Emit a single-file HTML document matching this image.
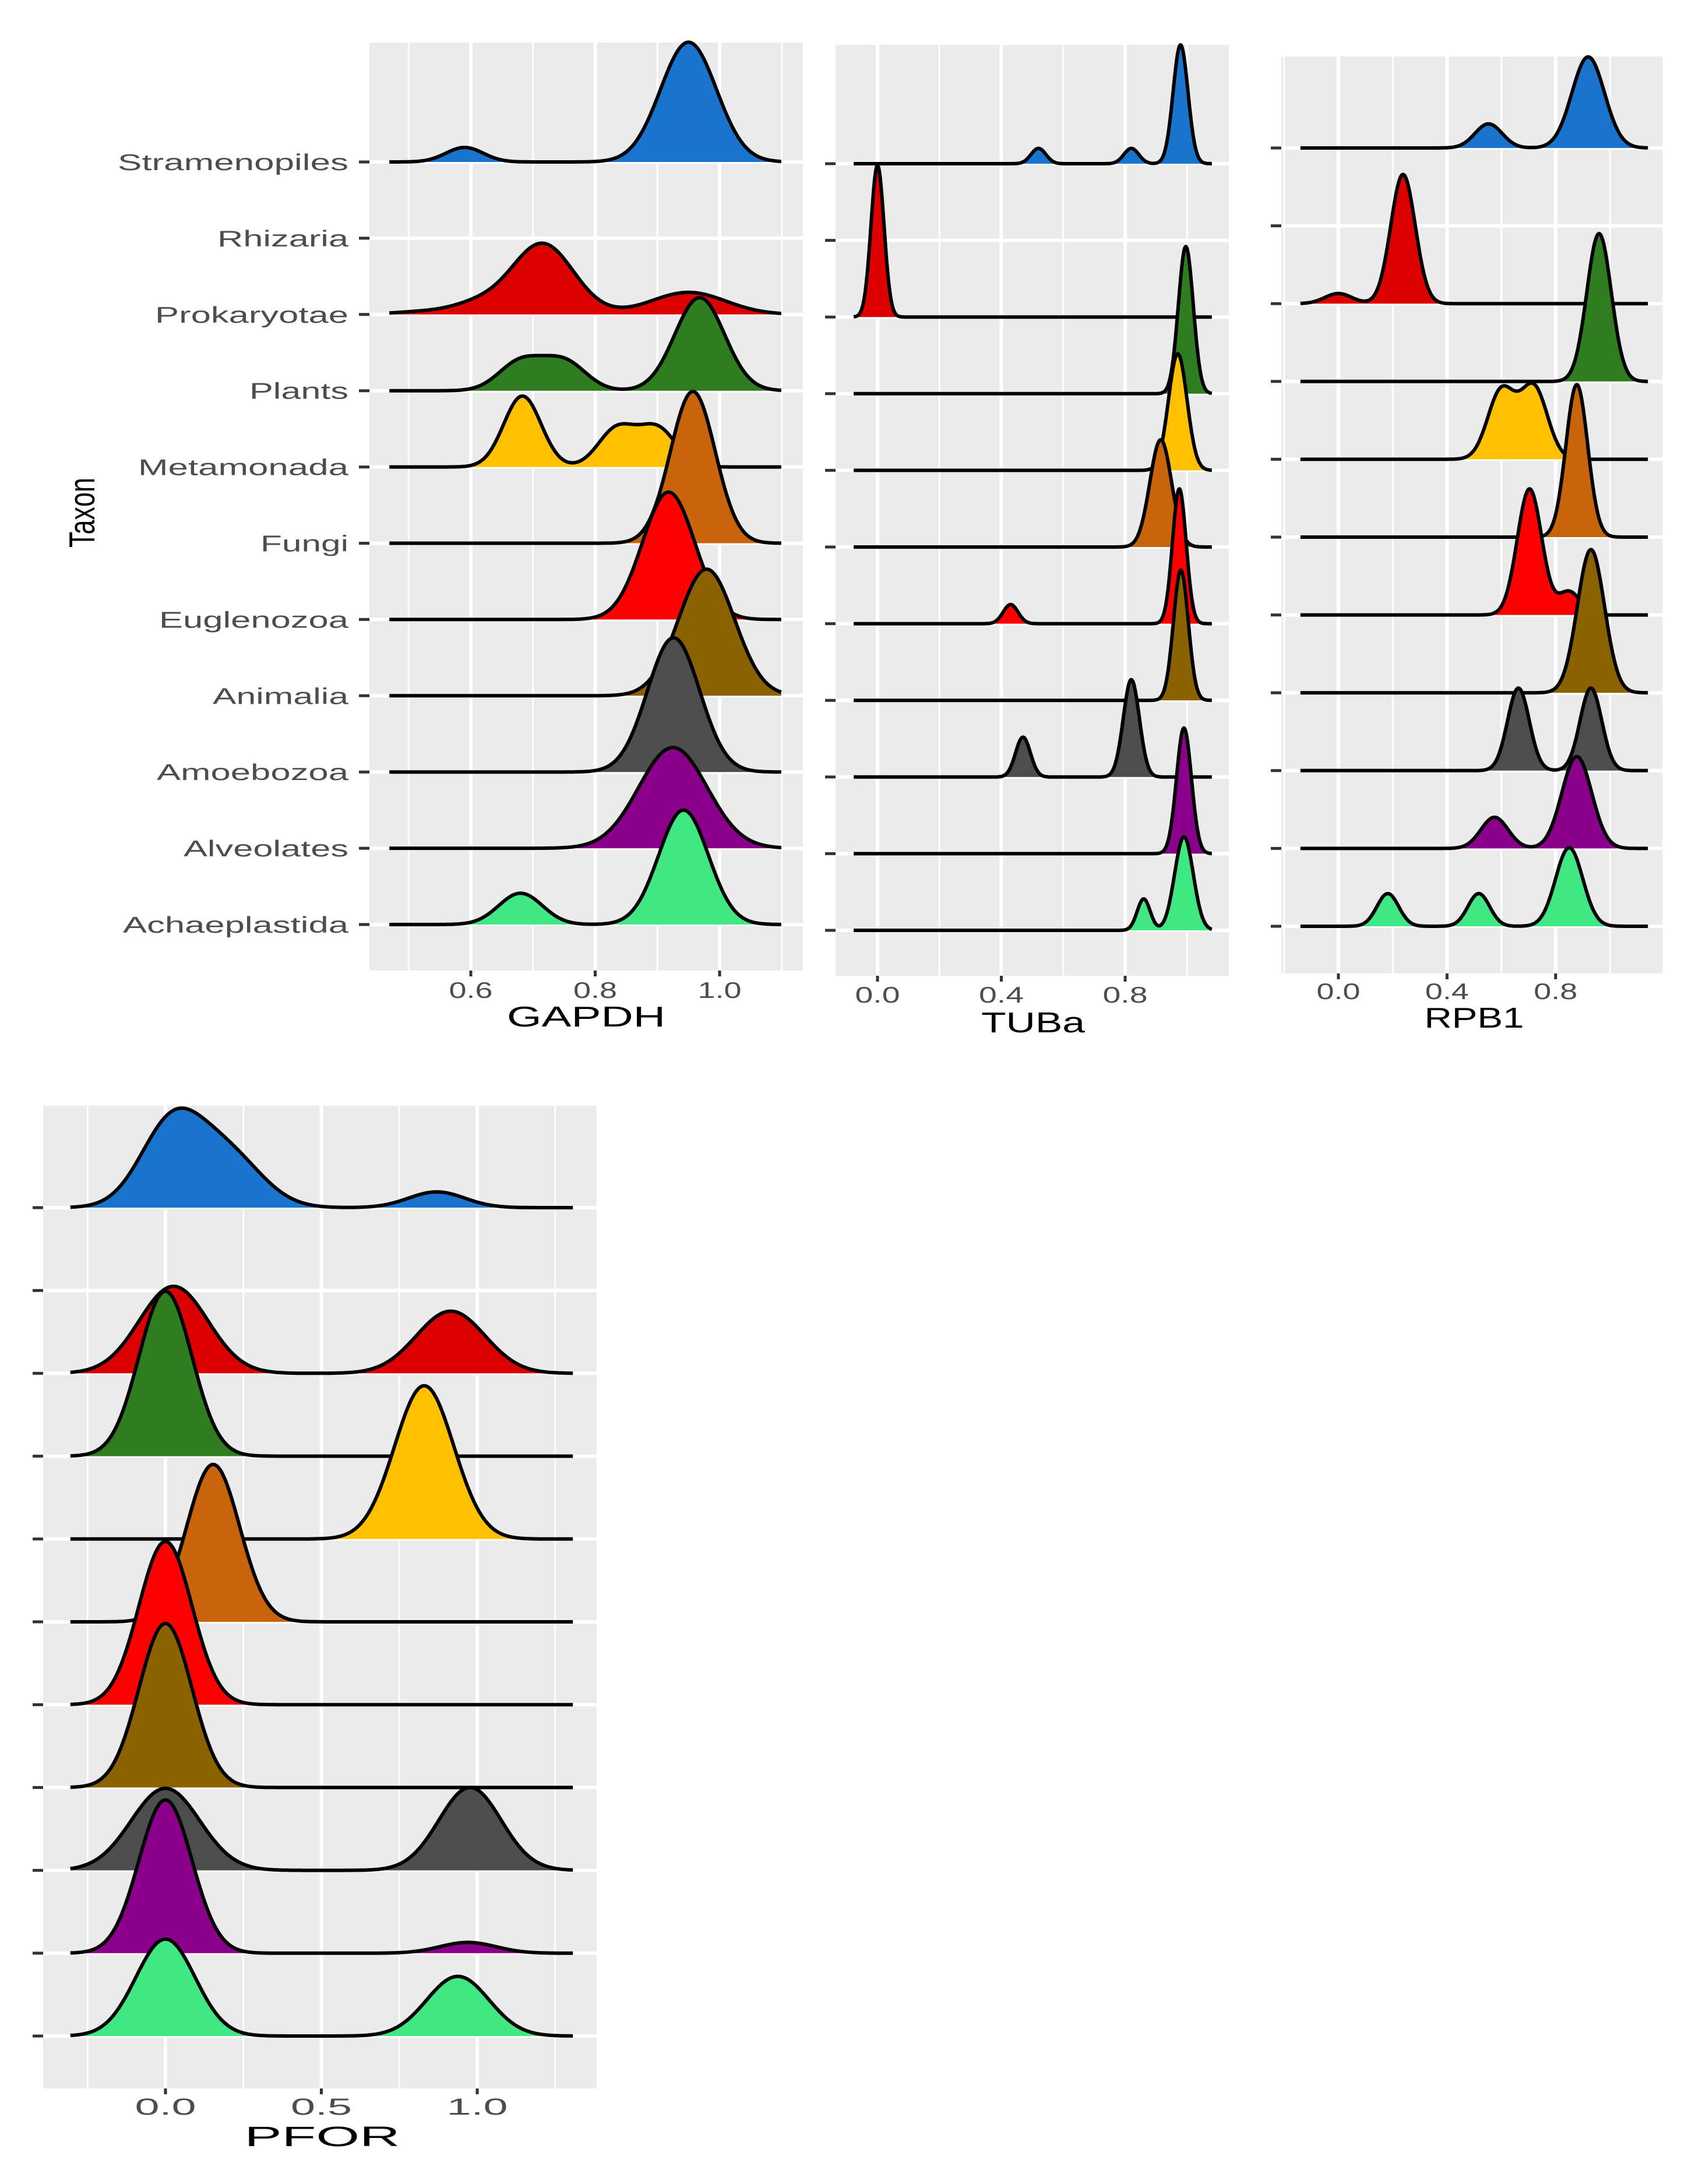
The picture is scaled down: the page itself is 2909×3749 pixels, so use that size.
<!DOCTYPE html>
<html><head><meta charset="utf-8"><style>
html,body{margin:0;padding:0;background:#fff}
svg{display:block}
text{font-family:"Liberation Sans",sans-serif}
</style></head><body>
<svg id="chart" xmlns="http://www.w3.org/2000/svg" width="2909" height="3749" viewBox="0 0 2909 3749">
<text x="0" y="0" font-size="62" fill="#000" textLength="120" lengthAdjust="spacingAndGlyphs" text-anchor="middle" transform="translate(162,880) rotate(-90)">Taxon</text>
</svg>
<script>
const taxa = ["Stramenopiles","Rhizaria","Prokaryotae","Plants","Metamonada","Fungi","Euglenozoa","Animalia","Amoebozoa","Alveolates","Achaeplastida"];
const colors = ["#1874CD","#CC0000","#DD0000","#2E7D1F","#FFC000","#C8650A","#FF0000","#8B6200","#4D4D4D","#8B008B","#40E884"];
// each taxon: list of [mean, sd, peak height in row-spacing units]
const gapdhSeries = [
 [[0.95,0.045,1.57],[0.59,0.03,0.19]],
 [],
 [[0.715,0.05,0.93],[0.61,0.04,0.12],[0.95,0.06,0.29],[0.53,0.05,0.04]],
 [[0.968,0.04,1.22],[0.68,0.035,0.38],[0.75,0.035,0.38]],
 [[0.683,0.03,0.93],[0.835,0.03,0.5],[0.9,0.03,0.5]],
 [[0.957,0.036,1.99]],
 [[0.918,0.042,1.67]],
 [[0.979,0.045,1.66]],
 [[0.926,0.042,1.76]],
 [[0.925,0.055,1.32]],
 [[0.942,0.04,1.5],[0.68,0.035,0.41]]
];
const tubaSeries = [
 [[0.979,0.024,1.55],[0.52,0.024,0.2],[0.82,0.024,0.2]],
 [],
 [[0.0,0.021,1.98]],
 [[0.996,0.024,1.92]],
 [[0.97,0.03,1.52]],
 [[0.915,0.035,1.4]],
 [[0.975,0.022,1.76],[0.43,0.024,0.25]],
 [[0.98,0.024,1.7]],
 [[0.47,0.024,0.52],[0.82,0.026,1.27]],
 [[0.99,0.024,1.64]],
 [[0.99,0.03,1.22],[0.86,0.021,0.41]]
];
const rpb1Series = [
 [[0.92,0.06,1.17],[0.553,0.05,0.31]],
 [],
 [[0.238,0.045,1.66],[0.0,0.05,0.13]],
 [[0.96,0.045,1.9]],
 [[0.6,0.05,0.88],[0.72,0.05,0.92]],
 [[0.878,0.04,1.96]],
 [[0.704,0.045,1.62],[0.85,0.04,0.3]],
 [[0.93,0.05,1.84]],
 [[0.663,0.04,1.06],[0.93,0.04,1.06]],
 [[0.878,0.055,1.18],[0.575,0.05,0.4]],
 [[0.182,0.04,0.42],[0.517,0.04,0.42],[0.85,0.05,1.01]]
];
const pforSeries = [
 [[0.02,0.1,1.0],[0.2,0.11,0.62],[0.87,0.09,0.19]],
 [],
 [[0.026,0.11,1.05],[0.915,0.11,0.75]],
 [[0.0,0.085,1.99]],
 [[0.83,0.095,1.85]],
 [[0.153,0.085,1.9]],
 [[0.0,0.085,1.97]],
 [[0.0,0.085,1.98]],
 [[0.0,0.11,0.99],[0.977,0.1,1.0]],
 [[0.0,0.085,1.85],[0.97,0.09,0.13]],
 [[0.0,0.095,1.17],[0.938,0.1,0.72]]
];
const gapdhTicks = ["0.6","0.8","1.0"];
const tubaTicks = ["0.0","0.4","0.8"];
const rpb1Ticks = ["0.0","0.4","0.8"];
const pforTicks = ["0.0","0.5","1.0"];
const yLabelWidths = [396,225,332,170,361,151,325,233,329,283,387];

const NS="http://www.w3.org/2000/svg";
const svg=document.getElementById('chart');
function mk(tag,attrs,parent){const e=document.createElementNS(NS,tag);for(const k in attrs)e.setAttribute(k,attrs[k]);(parent||svg).appendChild(e);return e;}

function drawPanel(p){
  const g=mk('g',{});
  
  
  const sx=v=>p.x0+(v-p.v0)*p.ppu;
  const rowY=i=>p.base0+i*p.sp;
  const bg=mk('rect',{x:p.left,y:p.top,width:p.right-p.left,height:p.bottom-p.top,fill:'#EBEBEB'},g);
  
  
  for(let v=p.gmin;v<=p.gmax+1e-9;v+=p.step/2){
    const major=Math.abs(Math.round(v/p.step)*p.step-v)<1e-6;
    const X=sx(v); if(X<p.left||X>p.right)continue;
    const gl=mk('line',{x1:X,x2:X,y1:p.top,y2:p.bottom,stroke:'#fff','stroke-width':major?6:3},g);
    
    
  }
  taxa.forEach((t,i)=>{
    const hl=mk('line',{x1:p.left,x2:p.right,y1:rowY(i),y2:rowY(i),stroke:'#fff','stroke-width':6},g);
    
    
  });
  p.series.forEach((comps,i)=>{
    if(!comps.length)return;
    const by=rowY(i); const N=500; let pts=[];
    for(let k=0;k<=N;k++){
      const v=p.lo+(p.hi-p.lo)*k/N; let d=0;
      comps.forEach(c=>{d+=c[2]*Math.exp(-0.5*Math.pow((v-c[0])/c[1],2));});
      pts.push([sx(v),by-d*p.sp]);
    }
    const line=pts.map((q,k)=>(k?'L':'M')+q[0].toFixed(1)+' '+q[1].toFixed(1)).join('');
    const fill=mk('path',{d:line+'L'+pts[N][0].toFixed(1)+' '+by+'L'+pts[0][0].toFixed(1)+' '+by+'Z',fill:colors[i]},g);
    
    
    const ol=mk('path',{d:line,fill:'none',stroke:'#000','stroke-width':6,'stroke-linejoin':'round'},g);
    
    
  });
  taxa.forEach((t,i)=>{
    const tk=mk('line',{x1:p.left-18,x2:p.left,y1:rowY(i),y2:rowY(i),stroke:'#333','stroke-width':5},g);
    
    
    if(p.labels){
      const tx=mk('text',{x:p.left-36,y:rowY(i)+14,'font-size':39,fill:'#4D4D4D','text-anchor':'end',textLength:yLabelWidths[i],lengthAdjust:'spacingAndGlyphs'},g);
      tx.textContent=t;
      
      
    }
  });
  p.ticks.forEach((lab,k)=>{
    const X=sx(parseFloat(lab));
    const tk=mk('line',{x1:X,x2:X,y1:p.bottom,y2:p.bottom+10,stroke:'#333','stroke-width':5},g);
    
    
    const tx=mk('text',{x:X,y:p.labY,'font-size':p.tfs,fill:'#4D4D4D','text-anchor':'middle',textLength:p.tlw,lengthAdjust:'spacingAndGlyphs'},g);
    tx.textContent=lab;
    
    
  });
  const ti=mk('text',{x:p.titleX,y:p.titleY,'font-size':p.titfs,fill:'#000','text-anchor':'middle',textLength:p.titW,lengthAdjust:'spacingAndGlyphs'},g);
  ti.textContent=p.title;
  
  
}

drawPanel({name:'gapdh',series:gapdhSeries,ticks:gapdhTicks,title:'GAPDH',labels:true,
 left:634,right:1378,top:73,bottom:1666,x0:808,v0:0.6,ppu:1067.5,base0:278,sp:130.9,
 lo:0.469,hi:1.099,gmin:0.5,gmax:1.1,step:0.2,labY:1713,tfs:39,tlw:75,titleX:1006,titleY:1762,titfs:49,titW:272});
drawPanel({name:'tuba',series:tubaSeries,ticks:tubaTicks,title:'TUBa',labels:false,
 left:1434,right:2109,top:77,bottom:1675,x0:1506,v0:0,ppu:531.25,base0:281,sp:131.6,
 lo:-0.077,hi:1.08,gmin:-0.2,gmax:1.2,step:0.4,labY:1721,tfs:39,tlw:77,titleX:1773,titleY:1772,titfs:49,titW:178});
drawPanel({name:'rpb1',series:rpb1Series,ticks:rpb1Ticks,title:'RPB1',labels:false,
 left:2199,right:2859,top:97,bottom:1671,x0:2297,v0:0,ppu:466,base0:254,sp:133.6,
 lo:-0.14,hi:1.14,gmin:-0.2,gmax:1.2,step:0.4,labY:1715,tfs:39,tlw:75,titleX:2530,titleY:1764,titfs:49,titW:171});
drawPanel({name:'pfor',series:pforSeries,ticks:pforTicks,title:'PFOR',labels:false,
 left:74,right:1024,top:1898,bottom:3585,x0:284,v0:0,ppu:535,base0:2073,sp:142.2,
 lo:-0.305,hi:1.307,gmin:-0.25,gmax:1.25,step:0.5,labY:3630,tfs:40,tlw:105,titleX:553,titleY:3684,titfs:48,titW:267});
</script>
</body></html>
